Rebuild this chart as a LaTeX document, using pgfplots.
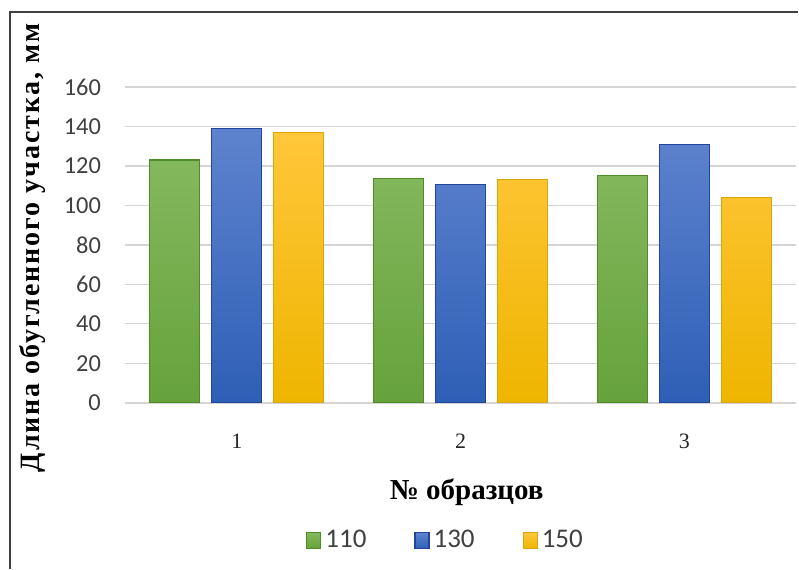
\documentclass[border=0pt]{standalone}
\usepackage{fontspec}
\setmainfont{Liberation Serif}
\newfontfamily\carlito{Carlito}
\newfontfamily\ylabfont[LetterSpace=7]{Liberation Serif}
\usepackage{pgfplots}
\pgfplotsset{compat=1.18}
\definecolor{gtop}{HTML}{84B85E}
\definecolor{gbot}{HTML}{66A23B}
\definecolor{gbd}{HTML}{4E8C2A}
\definecolor{btop}{HTML}{5E83CE}
\definecolor{bbot}{HTML}{2E5FB6}
\definecolor{bbd}{HTML}{23449A}
\definecolor{ytop}{HTML}{FFC73A}
\definecolor{ybot}{HTML}{EEB500}
\definecolor{ybd}{HTML}{D9A60A}
\definecolor{gridc}{HTML}{D5D5D5}
\definecolor{tickc}{HTML}{404040}
\begin{document}
\begin{tikzpicture}
\path (-62.5pt,-83pt) rectangle (337pt,201.5pt);
\draw[color=black!75, line width=0.6pt] (-57.5pt,-83pt) -- (-57.5pt,195.5pt) -- (337pt,195.5pt);
\begin{axis}[
  at={(0pt,0pt)}, anchor=south west,
  scale only axis, width=336pt, height=158pt,
  ybar=6pt, bar width=25pt,
  xmin=0.5, xmax=3.5, ymin=0, ymax=160,
  xtick={1,2,3}, xticklabels={1,2,3},
  ytick={0,20,...,160},
  axis x line*=bottom, axis y line*=left,
  x axis line style={draw=gridc, line width=0.8pt},
  y axis line style={draw=none},
  ymajorgrids, grid style={draw=gridc, line width=0.7pt},
  major tick length=0pt,
  xticklabel style={font=\fontsize{11}{12}\selectfont, text=black!85, anchor=center, yshift=-19.5pt},
  yticklabel style={font=\carlito\fontsize{12.2}{14}\selectfont, text=tickc, anchor=east, xshift=-8.5pt},
  /pgf/number format/assume math mode=true,
  xlabel={№ образцов},
  xlabel style={font=\bfseries\fontsize{14.5}{16}\selectfont, at={(axis description cs:0.509,-0.285)}, anchor=center},
  ylabel={Длина обугленного участка, мм},
  ylabel style={font=\ylabfont\bfseries\fontsize{14}{16}\selectfont, at={(axis description cs:-0.137,0.49)}, anchor=center},
  legend style={at={(axis description cs:0.479,-0.437)}, anchor=center, draw=none, legend columns=3,
    font=\carlito\fontsize{13.5}{15}\selectfont, text=tickc,
    /tikz/every even column/.append style={column sep=22pt}},
  legend image code/.code={\draw[#1] (0pt,-4pt) rectangle (7pt,4pt);},
]
\addplot[top color=gtop, bottom color=gbot, draw=gbd, line width=0.6pt] coordinates {(1,123) (2,113.5) (3,115)};
\addplot[top color=btop, bottom color=bbot, draw=bbd, line width=0.6pt] coordinates {(1,139) (2,110.5) (3,131)};
\addplot[top color=ytop, bottom color=ybot, draw=ybd, line width=0.6pt] coordinates {(1,137) (2,113) (3,104)};
\legend{110,130,150}
\end{axis}
\end{tikzpicture}
\end{document}
